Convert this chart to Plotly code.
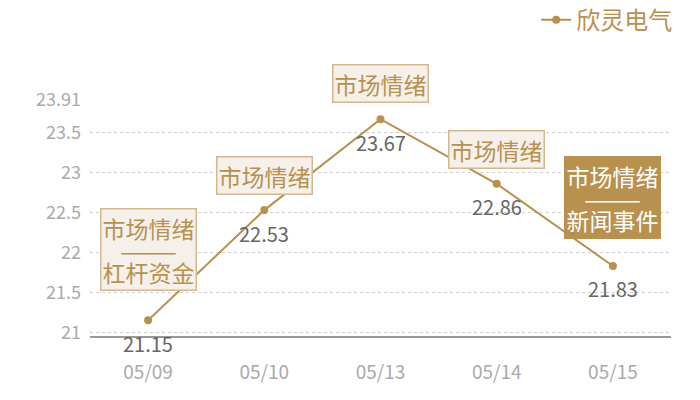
import plotly.graph_objects as go

dates = ["05/09", "05/10", "05/13", "05/14", "05/15"]
prices = [21.15, 22.53, 23.67, 22.86, 21.83]
box_lines = [["市场情绪", "———", "杠杆资金"], ["市场情绪"], ["市场情绪"], ["市场情绪"],
             ["市场情绪", "———", "新闻事件"]]
box_filled = [False, False, False, False, True]
box_shift = [71, 35, 36, 34, 68]
series_name = "欣灵电气"
y_ticks = [21, 21.5, 22, 22.5, 23, 23.5, 23.91]

GOLD = "#b8914f"
FONT = "Noto Sans CJK SC, Noto Sans, sans-serif"

fig = go.Figure()
fig.add_trace(go.Scatter(
    x=dates, y=prices, mode="lines+markers", name=series_name,
    line=dict(color=GOLD, width=2), marker=dict(color=GOLD, size=8),
))

for d, p in zip(dates, prices):
    fig.add_annotation(x=d, y=p, text=f"{p:.2f}", showarrow=False, yshift=-23,
                       font=dict(family=FONT, size=20, color="#666666"))

for d, p, lines, f, s in zip(dates, prices, box_lines, box_filled, box_shift):
    multi = len(lines) > 1
    text = "<br>".join(f"<span style='font-size:23px'>{ln}</span>" for ln in lines)
    fig.add_annotation(
        x=d, y=p, text=text, showarrow=False, yshift=s,
        font=dict(family=FONT, size=17 if multi else 23, color="#ffffff" if f else GOLD),
        bgcolor=GOLD if f else "#f5f0ea",
        bordercolor="#d4b98e" if not f else GOLD, borderwidth=1.5, borderpad=1,
    )

fig.update_layout(
    width=692, height=392,
    margin=dict(l=82, r=29, t=92, b=63, autoexpand=False),
    paper_bgcolor="white", plot_bgcolor="white",
    showlegend=True,
    legend=dict(x=0.967, y=0.969, xref="container", yref="container", xanchor="right", yanchor="middle",
                font=dict(family=FONT, size=24, color=GOLD), bgcolor="rgba(0,0,0,0)",
                itemwidth=30),
    xaxis=dict(type="category", showgrid=False, zeroline=False, showline=False,
               ticks="", ticklabelstandoff=22,
               tickfont=dict(family=FONT, size=19, color="#aaaaaa"),
               range=[-0.5, 4.5], fixedrange=True),
    yaxis=dict(range=[20.94, 23.91], tickvals=y_ticks,
               ticktext=[str(v) for v in y_ticks],
               showgrid=True, gridcolor="#d0d0d0", griddash="3px,3px", gridwidth=1,
               zeroline=False, showline=False, ticks="", ticklabelstandoff=8,
               tickfont=dict(family=FONT, size=18, color="#aaaaaa")),
)
fig.add_shape(type="line", xref="paper", yref="paper", x0=0, x1=1, y0=0, y1=0,
              line=dict(color="#333333", width=1))

fig.write_html("out.html")
